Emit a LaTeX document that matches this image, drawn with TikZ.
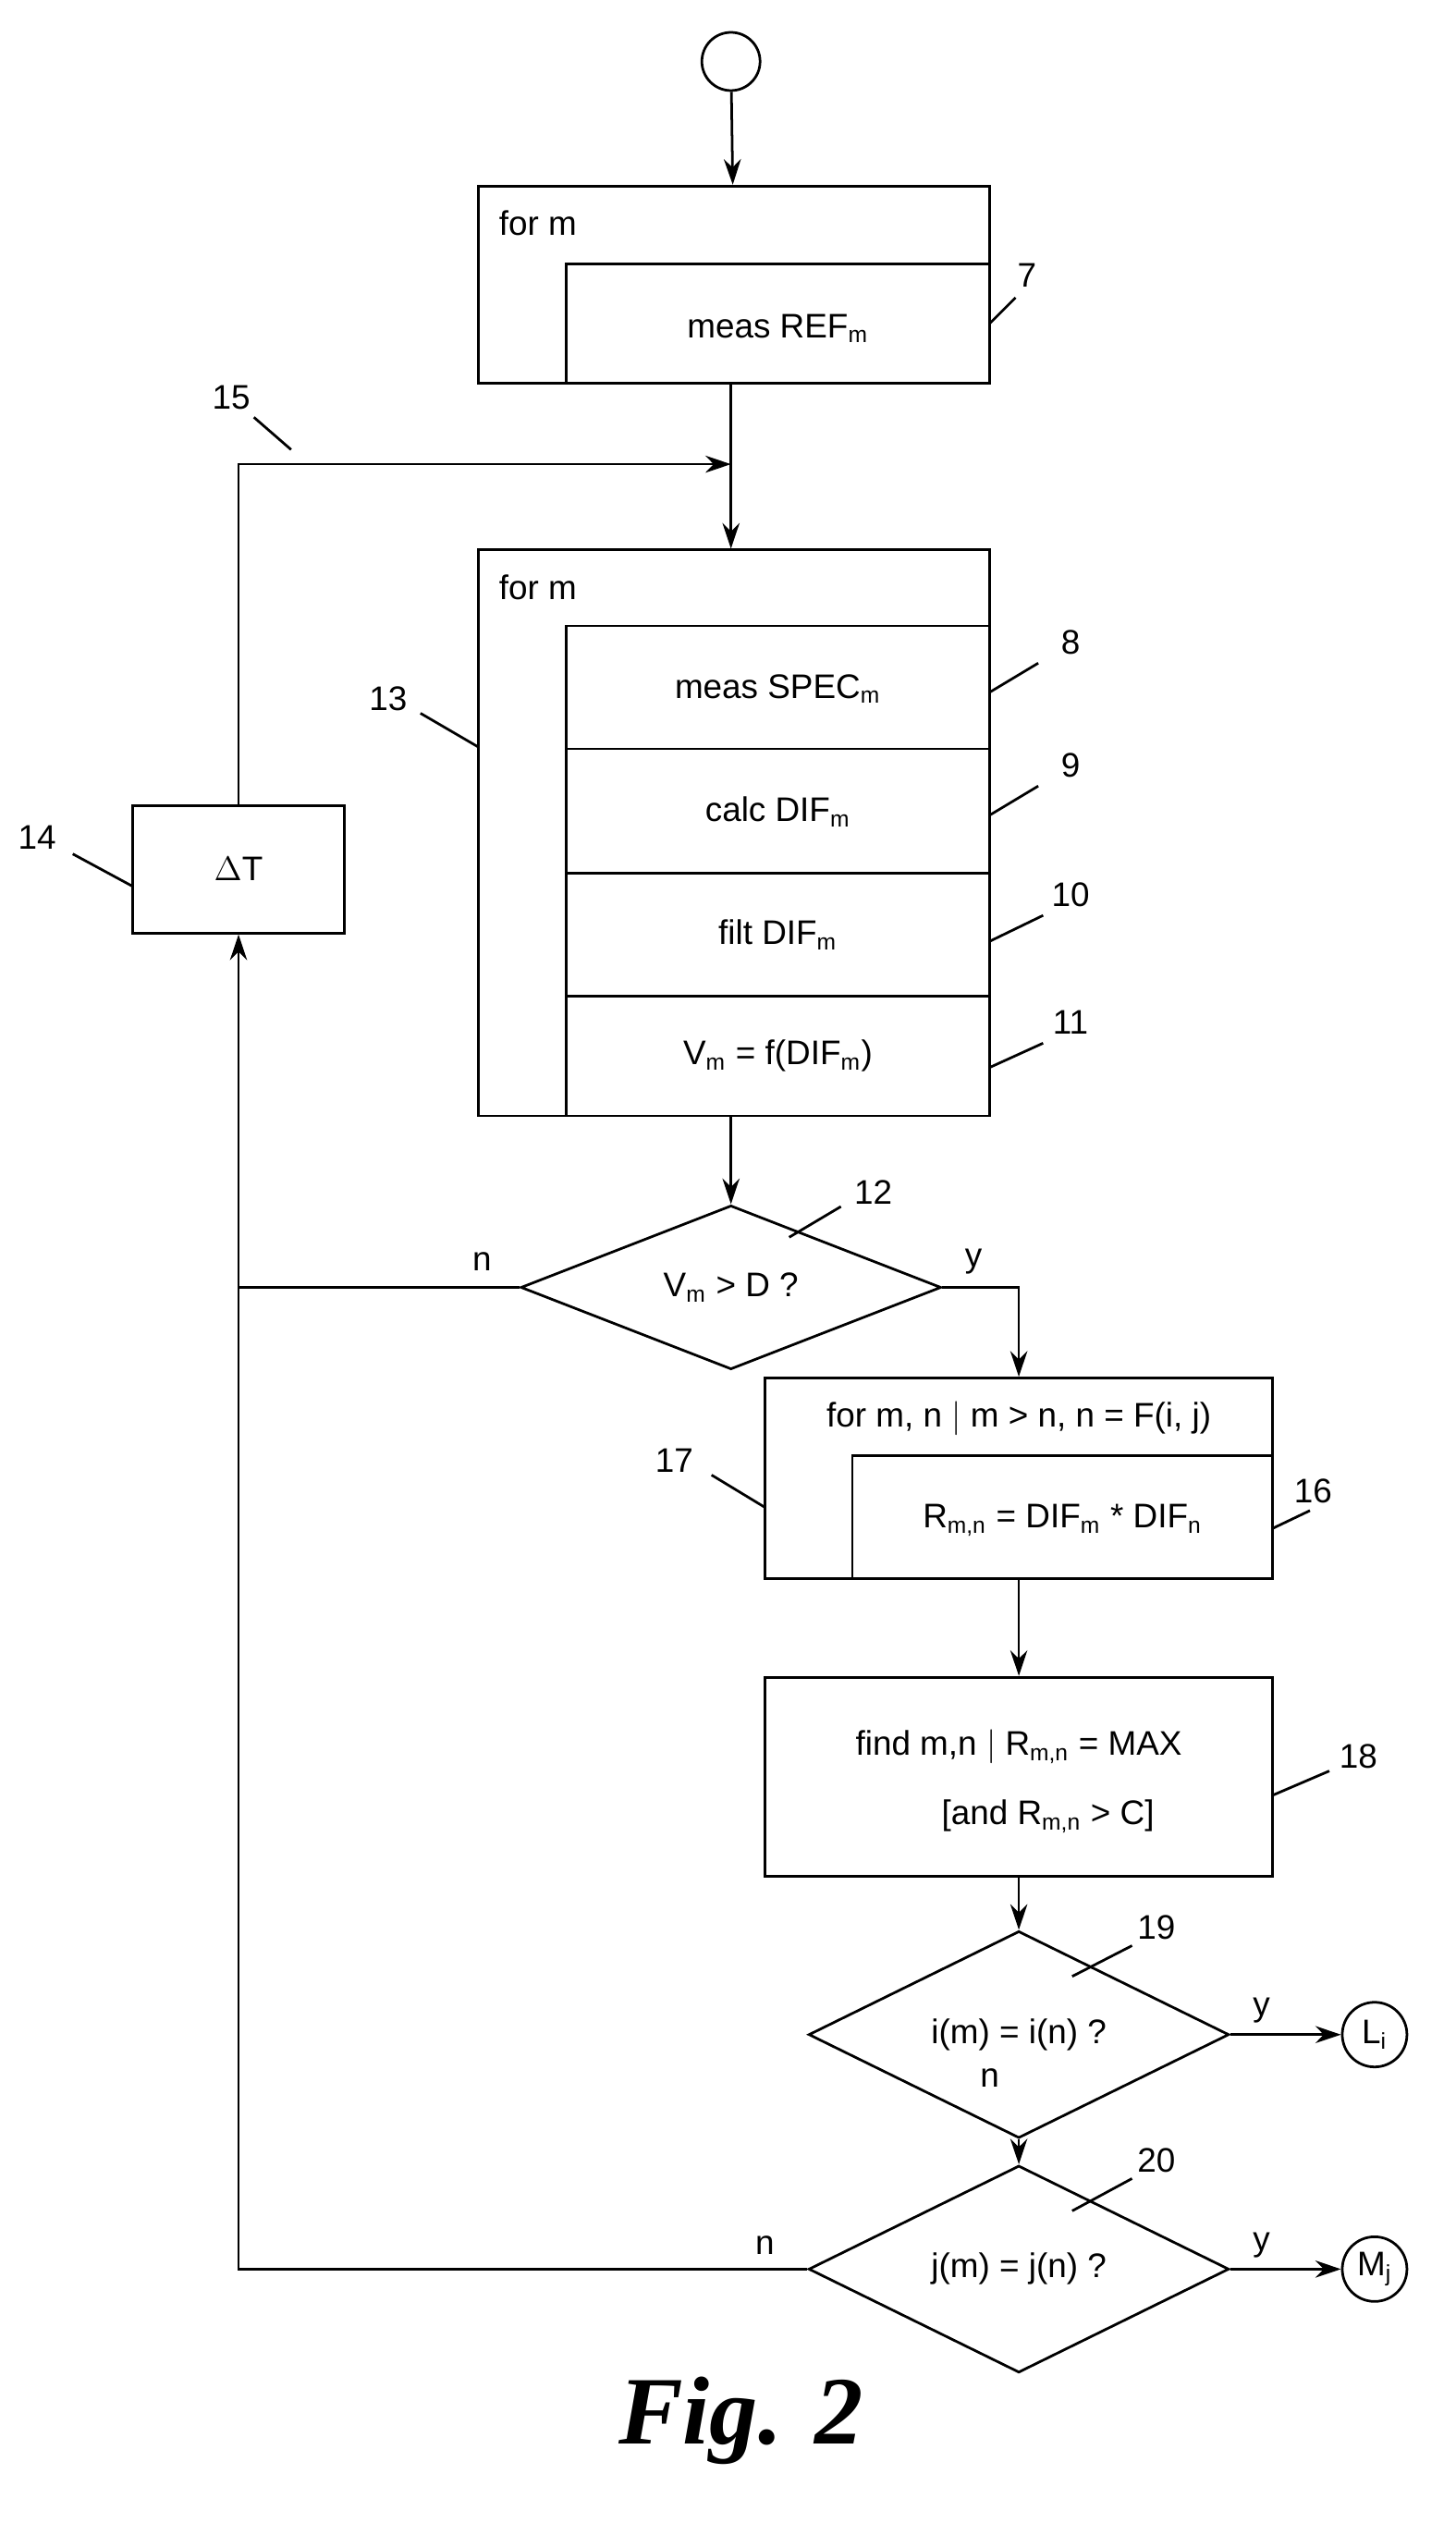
\documentclass[tikz,border=0pt]{standalone}
\usepackage{fontspec}
\setmainfont{Liberation Sans}
\newfontfamily\figfont{Liberation Serif}
\newcommand\sbs[1]{\textsubscript{#1}}
\usetikzlibrary{shapes.geometric,arrows.meta}
\begin{document}
\begin{tikzpicture}[x=0.02cm,y=-0.02cm,line width=0.9pt,
  font=\fontsize{12}{14}\selectfont,
  dia/.style={draw,diamond,minimum width=5.2cm,minimum height=1.74cm,inner sep=0},
  arr/.style={-{Stealth[length=9pt,width=6pt]}}]
\useasboundingbox (0,0) rectangle (900,1560);
% start
\node[draw,circle,minimum size=0.72cm] (start) at (452,38) {};
% box 7
\node[draw,minimum width=6.32cm,minimum height=2.44cm] (b7) at (454,176) {};
\draw (350,237) -- (350,163) -- (612,163);
\node[anchor=west] (f7) at (302,138) {for m};
\node (t7) at (481,203) {meas REF\sbs{m}};
\draw[arr] (start) -- (b7);
% box 13
\node[draw,minimum width=6.32cm,minimum height=7cm] (b13) at (454,515) {};
\draw (350,690) -- (350,387) -- (612,387);
\foreach \y in {463,540,616} \draw (350,\y) -- (612,\y);
\node[anchor=west] (f13) at (302,363) {for m};
\node (t8) at (481,426) {meas SPEC\sbs{m}};
\node (t9) at (481,502) {calc DIF\sbs{m}};
\node (t10) at (481,578) {filt DIF\sbs{m}};
\node (t11) at (481,653) {V\sbs{m} = f(DIF\sbs{m})};
\coordinate (j15) at (452,287);
\draw[arr] (b7.south -| j15) -- (b13.north -| j15);
% delta T
\node[draw,minimum width=2.62cm,minimum height=1.58cm] (b14) at (147.5,537.5) {$\Delta$T};
\coordinate (c15) at (147.5,287);
\draw[arr] (b14.north) -- (c15) -- (j15);
% diamond 12
\node[dia] (d12) at (452,796) {V\sbs{m} > D ?};
\draw[arr] (b13.south -| d12) -- (d12.north);
\coordinate (l12) at (147.5,796);
\draw (d12.west) -- (l12);
\node at (298,780) {n};
\node at (602,780) {y};
% box 17
\node[draw,minimum width=6.28cm,minimum height=2.48cm] (b17) at (630,914) {};
\draw (527,976) -- (527,900) -- (787,900);
\node (f17) at (630,877) {for m, n $\big|$ m > n, n = F(i, j)};
\node (t16) at (657,940) {R\sbs{m,n} = DIF\sbs{m} * DIF\sbs{n}};
\coordinate (r12) at (630,796);
\draw[arr] (d12.east) -- (r12) -- (b17.north);
% box 18
\node[draw,minimum width=6.28cm,minimum height=2.46cm] (b18) at (630,1098.5) {};
\node (t18a) at (630,1080) {find m,n $\big|$ R\sbs{m,n} = MAX};
\node (t18b) at (648,1123) {[and R\sbs{m,n} > C]};
\draw[arr] (b17.south) -- (b18.north);
% diamond 19
\node[dia] (d19) at (630,1258) {i(m) = i(n) ?};
\draw[arr] (b18.south) -- (d19.north);
\node[draw,circle,minimum size=0.8cm,inner sep=0] (Li) at (850,1258) {L\sbs{i}};
\draw[arr] (d19.east) -- (Li);
\node at (780,1243) {y};
\node at (612,1285) {n};
% diamond 20
\node[dia] (d20) at (630,1403) {j(m) = j(n) ?};
\draw[arr] (d19.south) -- (d20.north);
\node[draw,circle,minimum size=0.8cm,inner sep=0] (Mj) at (850,1403) {M\sbs{j}};
\draw[arr] (d20.east) -- (Mj);
\node at (780,1388) {y};
\node at (473,1388) {n};
\coordinate (l20) at (147.5,1403);
\draw[arr] (d20.west) -- (l20) -- (b14.south);
% labels
\node (n7) at (635,170) {7}; \draw (612,200) -- (628,184);
\node (n15) at (143,246) {15}; \draw (180,278) -- (157,258);
\node (n8) at (662,397) {8}; \draw (612,428) -- (642,410);
\node (n9) at (662,473) {9}; \draw (612,504) -- (642,486);
\node (n10) at (662,553) {10}; \draw (612,582) -- (645,566);
\node (n11) at (662,632) {11}; \draw (612,660) -- (645,645);
\node (n13) at (240,432) {13}; \draw (296,462) -- (260,441);
\node (n14) at (23,518) {14}; \draw (82,548) -- (45,528);
\node (n12) at (540,737) {12}; \draw (488,765) -- (520,746);
\node (n17) at (417,903) {17}; \draw (473,932) -- (440,912);
\node (n16) at (812,922) {16}; \draw (787,945) -- (810,934);
\node (n18) at (840,1086) {18}; \draw (787,1110) -- (822,1095);
\node (n19) at (715,1192) {19}; \draw (663,1222) -- (700,1203);
\node (n20) at (715,1336) {20}; \draw (663,1367) -- (700,1347);
\node[font=\figfont\bfseries\itshape\fontsize{34}{38}\selectfont] (fig) at (458,1497) {Fig. 2};
\end{tikzpicture}
\end{document}
